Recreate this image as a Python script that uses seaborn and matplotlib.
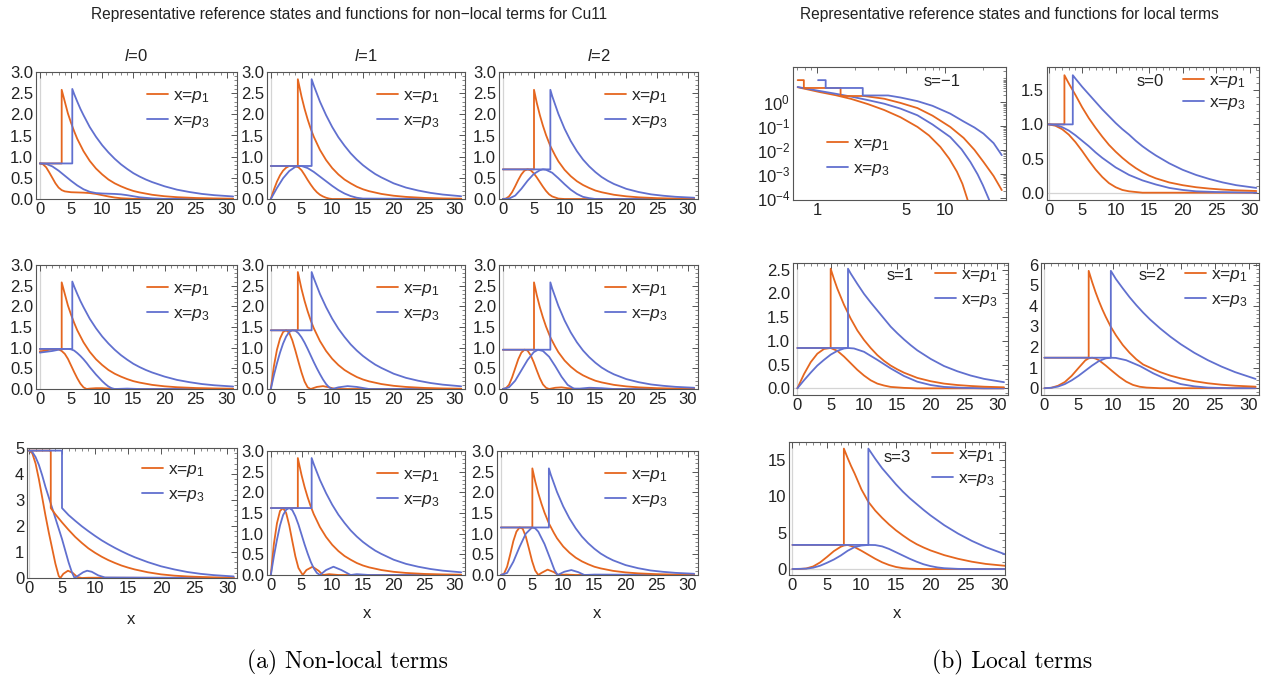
import numpy as np
import pandas as pd
import matplotlib
matplotlib.use("Agg")
import matplotlib.pyplot as plt
import seaborn as sns
from matplotlib.lines import Line2D
from matplotlib.ticker import FixedLocator, MultipleLocator, FormatStrFormatter, NullFormatter, FixedFormatter

# ---------------- DATA ----------------
# decaying parts of the functions (first point is the jump at x = p)
L0_FN1_X = [3.5, 4, 4.5, 5, 5.5, 6, 7, 8, 9, 10, 11, 12, 13, 14, 15, 16, 18, 20, 22, 25, 28, 31]
L0_FN1_Y = [2.58, 2.3, 2.02, 1.8, 1.6, 1.42, 1.13, 0.9, 0.72, 0.58, 0.46, 0.37, 0.3, 0.24, 0.19, 0.155, 0.1, 0.065, 0.043, 0.024, 0.014, 0.008]
L0_FN3_X = [5.2, 5.5, 6, 6.5, 7, 8, 9, 10, 11, 12, 13, 14, 15, 16, 17, 18, 20, 22, 24, 26, 28, 31]
L0_FN3_Y = [2.6, 2.48, 2.3, 2.13, 1.98, 1.7, 1.47, 1.27, 1.1, 0.95, 0.82, 0.71, 0.61, 0.53, 0.46, 0.4, 0.3, 0.22, 0.165, 0.12, 0.09, 0.06]
L0R3_FN1_X = [3.3, 4, 5, 6, 7, 8, 9, 10, 11, 12, 13, 14, 15, 16, 18, 20, 22, 24, 26, 28, 31]
L0R3_FN1_Y = [2.69, 2.45, 2.14, 1.85, 1.58, 1.35, 1.14, 0.97, 0.82, 0.69, 0.58, 0.48, 0.4, 0.33, 0.22, 0.14, 0.09, 0.06, 0.04, 0.025, 0.014]
L0R3_FN3_X = [5.0, 6, 7, 8, 9, 10, 11, 12, 13, 14, 15, 16, 18, 20, 22, 24, 26, 28, 31]
L0R3_FN3_Y = [2.69, 2.42, 2.2, 1.99, 1.8, 1.62, 1.45, 1.3, 1.16, 1.03, 0.91, 0.8, 0.61, 0.45, 0.33, 0.23, 0.16, 0.11, 0.06]
L1_FN1_X = [4.4, 5, 5.5, 6, 6.5, 7, 8, 9, 10, 11, 12, 13, 14, 15, 16, 18, 20, 22, 25, 28, 31]
L1_FN1_Y = [2.83, 2.42, 2.13, 1.88, 1.66, 1.47, 1.16, 0.92, 0.73, 0.58, 0.46, 0.37, 0.29, 0.23, 0.185, 0.12, 0.077, 0.05, 0.026, 0.014, 0.008]
L1_FN3_X = [6.65, 7, 8, 9, 10, 11, 12, 13, 14, 15, 16, 17, 18, 20, 22, 24, 26, 28, 31]
L1_FN3_Y = [2.83, 2.68, 2.3, 1.98, 1.7, 1.46, 1.26, 1.08, 0.93, 0.8, 0.69, 0.59, 0.51, 0.37, 0.27, 0.2, 0.145, 0.105, 0.065]
L2_FN1_X = [5.05, 5.5, 6, 6.5, 7, 7.7, 8.5, 9, 10, 11, 12, 13, 14, 15, 16, 18, 20, 22, 25, 28, 31]
L2_FN1_Y = [2.58, 2.27, 1.98, 1.73, 1.51, 1.25, 1.02, 0.89, 0.69, 0.54, 0.42, 0.33, 0.26, 0.2, 0.16, 0.1, 0.063, 0.04, 0.02, 0.011, 0.006]
L2_FN3_X = [7.7, 8, 9, 10, 11, 12, 13, 14, 15, 16, 17, 18, 20, 22, 24, 26, 28, 31]
L2_FN3_Y = [2.58, 2.43, 2.01, 1.66, 1.37, 1.13, 0.93, 0.77, 0.635, 0.52, 0.43, 0.355, 0.24, 0.165, 0.11, 0.077, 0.052, 0.03]

# constant levels (rows 1..3) per column
L0_LEVEL = [0.84, 0.97, 4.9]
L1_LEVEL = [0.78, 1.42, 1.62]
L2_LEVEL = [0.70, 0.95, 1.15]

# reference states, non-local
R1_L0_REF1_X = [0, 0.5, 1, 1.5, 2, 2.5, 3, 3.5, 4, 5, 6, 7, 8, 9, 10, 11, 12, 13, 15, 18, 31]
R1_L0_REF1_Y = [0.84, 0.82, 0.75, 0.63, 0.5, 0.37, 0.27, 0.21, 0.18, 0.16, 0.155, 0.15, 0.14, 0.12, 0.09, 0.06, 0.035, 0.018, 0.004, 0.0, 0.0]
R1_L0_REF3_X = [0, 1, 2, 3, 4, 5, 6, 7, 8, 9, 10, 11, 12, 13, 14, 15, 16, 18, 20, 31]
R1_L0_REF3_Y = [0.84, 0.83, 0.77, 0.67, 0.55, 0.43, 0.32, 0.23, 0.17, 0.14, 0.13, 0.125, 0.12, 0.11, 0.09, 0.065, 0.04, 0.015, 0.003, 0.0]
R2_L0_REF1_X = [0, 0.5, 1, 1.5, 2, 2.5, 3, 3.5, 4, 4.5, 5, 5.5, 6, 6.5, 7, 7.5, 8, 9, 10, 11, 12, 31]
R2_L0_REF1_Y = [0.91, 0.92, 0.93, 0.95, 0.96, 0.97, 0.96, 0.92, 0.85, 0.73, 0.57, 0.41, 0.26, 0.13, 0.04, 0.0, 0.01, 0.02, 0.02, 0.01, 0.0, 0.0]
R2_L0_REF3_X = [0, 1, 2, 3, 4, 4.5, 5, 5.5, 6, 6.5, 7, 7.5, 8, 8.5, 9, 9.5, 10, 10.5, 11, 11.5, 12, 14, 16, 31]
R2_L0_REF3_Y = [0.88, 0.9, 0.92, 0.95, 0.97, 0.97, 0.96, 0.93, 0.87, 0.8, 0.72, 0.63, 0.53, 0.44, 0.35, 0.27, 0.19, 0.12, 0.06, 0.02, 0.0, 0.01, 0.0, 0.0]
R3_L0_REF1_X = [0, 0.5, 1, 1.5, 2, 2.5, 3, 3.5, 4, 4.5, 4.75, 5.2, 5.9, 6.6, 7.3, 8, 9, 31]
R3_L0_REF1_Y = [4.9, 4.8, 4.4, 3.8, 3.1, 2.4, 1.75, 1.15, 0.55, 0.08, 0.0, 0.16, 0.28, 0.2, 0.04, 0.0, 0.01, 0.0]
R3_L0_REF3_X = [0, 0.5, 1, 1.5, 2, 2.5, 3, 3.5, 4, 4.5, 5, 5.5, 6, 6.5, 6.9, 7.5, 8.2, 8.8, 9.5, 10.5, 11.5, 31]
R3_L0_REF3_Y = [4.9, 4.85, 4.65, 4.35, 3.95, 3.5, 3.1, 2.7, 2.3, 1.9, 1.5, 1.05, 0.6, 0.22, 0.0, 0.1, 0.22, 0.28, 0.24, 0.1, 0.02, 0.0]

R1_L1_REF1_X = [0, 0.5, 1, 1.5, 2, 2.5, 3, 3.5, 4, 4.5, 5, 5.5, 6, 6.5, 7, 7.5, 8, 8.5, 9, 9.5, 10, 31]
R1_L1_REF1_Y = [0.0, 0.22, 0.41, 0.56, 0.67, 0.74, 0.78, 0.78, 0.77, 0.75, 0.68, 0.57, 0.45, 0.34, 0.24, 0.16, 0.1, 0.06, 0.03, 0.01, 0.0, 0.0]
R1_L1_REF3_X = [0, 1, 2, 3, 4, 4.5, 5, 6, 7, 8, 9, 10, 11, 12, 13, 14, 15, 31]
R1_L1_REF3_Y = [0.0, 0.26, 0.49, 0.66, 0.76, 0.78, 0.78, 0.73, 0.64, 0.53, 0.42, 0.31, 0.21, 0.13, 0.07, 0.03, 0.01, 0.0]
R2_L1_REF1_X = [0, 0.5, 1, 1.5, 2, 2.5, 3, 3.5, 4, 4.5, 5, 5.5, 6, 6.5, 7.5, 8.5, 9.5, 10.5, 31]
R2_L1_REF1_Y = [0.0, 0.55, 0.95, 1.22, 1.38, 1.42, 1.36, 1.18, 0.93, 0.66, 0.4, 0.18, 0.04, 0.0, 0.05, 0.07, 0.04, 0.0, 0.0]
R2_L1_REF3_X = [0, 0.5, 1, 1.5, 2, 2.5, 3, 3.5, 4, 4.5, 5, 5.5, 6, 6.5, 7, 7.5, 8, 8.5, 9, 9.5, 10, 11, 12.5, 14, 16, 31]
R2_L1_REF3_Y = [0.0, 0.33, 0.62, 0.88, 1.1, 1.27, 1.38, 1.42, 1.41, 1.35, 1.25, 1.12, 0.97, 0.81, 0.65, 0.5, 0.36, 0.23, 0.12, 0.04, 0.0, 0.04, 0.07, 0.05, 0.0, 0.0]
R3_L1_REF1_X = [0, 0.5, 1, 1.5, 2, 2.5, 3, 3.5, 4, 4.5, 5.2, 5.8, 6.8, 7.8, 8.5, 9.5, 11, 31]
R3_L1_REF1_Y = [0.0, 0.75, 1.25, 1.55, 1.62, 1.5, 1.2, 0.82, 0.45, 0.17, 0.0, 0.12, 0.2, 0.1, 0.0, 0.02, 0.0, 0.0]
R3_L1_REF3_X = [0, 0.5, 1, 1.5, 2, 2.5, 3, 3.5, 4, 4.5, 5, 5.5, 6, 6.5, 7, 7.5, 8, 9, 10.2, 11.5, 13, 14, 16, 31]
R3_L1_REF3_Y = [0.0, 0.45, 0.85, 1.2, 1.45, 1.58, 1.62, 1.57, 1.42, 1.22, 0.98, 0.74, 0.52, 0.32, 0.16, 0.05, 0.0, 0.12, 0.2, 0.12, 0.0, 0.02, 0.0, 0.0]

R1_L2_REF1_X = [0, 0.5, 1, 1.5, 2, 2.5, 3, 3.5, 4, 4.5, 5, 5.5, 6, 6.5, 7, 7.5, 8, 9, 10, 31]
R1_L2_REF1_Y = [0.0, 0.01, 0.06, 0.16, 0.3, 0.45, 0.58, 0.67, 0.7, 0.68, 0.61, 0.51, 0.4, 0.29, 0.19, 0.11, 0.06, 0.01, 0.0, 0.0]
R1_L2_REF3_X = [0, 1, 2, 3, 4, 5, 6, 6.5, 7, 8, 9, 10, 11, 12, 13, 14, 15, 31]
R1_L2_REF3_Y = [0.0, 0.01, 0.08, 0.24, 0.43, 0.59, 0.68, 0.7, 0.69, 0.62, 0.49, 0.35, 0.22, 0.12, 0.05, 0.02, 0.0, 0.0]
R2_L2_REF1_X = [0, 0.5, 1, 1.5, 2, 2.5, 3, 3.5, 4, 4.5, 5, 5.5, 6, 6.5, 7, 7.5, 8.5, 9.5, 10.5, 12, 31]
R2_L2_REF1_Y = [0.0, 0.02, 0.1, 0.28, 0.5, 0.72, 0.88, 0.95, 0.93, 0.82, 0.65, 0.45, 0.26, 0.11, 0.03, 0.0, 0.03, 0.04, 0.02, 0.0, 0.0]
R2_L2_REF3_X = [0, 1, 2, 3, 4, 5, 5.7, 6.5, 7.5, 8.5, 9.5, 10.5, 11.5, 12.5, 14, 16, 18, 31]
R2_L2_REF3_Y = [0.0, 0.04, 0.2, 0.45, 0.7, 0.89, 0.95, 0.92, 0.78, 0.55, 0.3, 0.1, 0.01, 0.01, 0.03, 0.02, 0.0, 0.0]
R3_L2_REF1_X = [0, 0.5, 1, 1.5, 2, 2.5, 3, 3.5, 4, 4.5, 5, 5.5, 6, 6.5, 7.5, 8.5, 9.2, 10.5, 12, 31]
R3_L2_REF1_Y = [0.0, 0.03, 0.2, 0.5, 0.82, 1.05, 1.15, 1.12, 0.93, 0.64, 0.34, 0.11, 0.0, 0.05, 0.13, 0.07, 0.0, 0.01, 0.0, 0.0]
R3_L2_REF3_X = [0, 1, 2, 3, 4, 5, 5.5, 6, 7, 8, 8.6, 9.1, 10.2, 11.3, 12.4, 13.4, 15, 31]
R3_L2_REF3_Y = [0.0, 0.05, 0.32, 0.68, 1.0, 1.15, 1.13, 1.05, 0.75, 0.36, 0.12, 0.0, 0.08, 0.12, 0.07, 0.0, 0.01, 0.0]

# local terms
S0_LEVEL = 1.0
S0_FN1_X = [2.35, 3, 4, 5, 6, 7, 8, 9, 10, 11, 12, 13, 14, 15, 16, 18, 20, 22, 24, 26, 28, 31]
S0_FN1_Y = [1.72, 1.6, 1.43, 1.25, 1.09, 0.95, 0.82, 0.7, 0.6, 0.51, 0.43, 0.36, 0.3, 0.25, 0.21, 0.15, 0.11, 0.08, 0.06, 0.045, 0.035, 0.025]
S0_FN3_X = [3.6, 4, 5, 6, 7, 8, 9, 10, 11, 12, 13, 14, 15, 16, 18, 20, 22, 24, 26, 28, 31]
S0_FN3_Y = [1.72, 1.67, 1.55, 1.44, 1.33, 1.22, 1.12, 1.02, 0.93, 0.85, 0.76, 0.68, 0.61, 0.545, 0.43, 0.335, 0.26, 0.2, 0.15, 0.11, 0.07]
S0_REF1_X = [0, 1, 2, 3, 4, 5, 6, 7, 8, 9, 10, 11, 12, 14, 31]
S0_REF1_Y = [1.0, 0.98, 0.93, 0.85, 0.74, 0.61, 0.47, 0.34, 0.23, 0.14, 0.08, 0.04, 0.02, 0.0, 0.0]
S0_REF3_X = [0, 1, 2, 3, 4, 5, 6, 7, 8, 10, 12, 14, 16, 18, 20, 22, 25, 31]
S0_REF3_Y = [1.0, 0.99, 0.96, 0.91, 0.84, 0.76, 0.68, 0.59, 0.51, 0.37, 0.26, 0.18, 0.12, 0.07, 0.04, 0.02, 0.01, 0.0]

S1_LEVEL = 0.85
S1_FN1_X = [5.0, 5.5, 6, 7, 8, 9, 10, 11, 12, 13, 14, 15, 16, 18, 20, 22, 24, 26, 28, 31]
S1_FN1_Y = [2.52, 2.3, 2.1, 1.76, 1.47, 1.22, 1.02, 0.85, 0.7, 0.58, 0.48, 0.4, 0.33, 0.22, 0.15, 0.1, 0.07, 0.05, 0.035, 0.022]
S1_FN3_X = [7.6, 8, 9, 10, 11, 12, 13, 14, 15, 16, 17, 18, 20, 22, 24, 26, 28, 31]
S1_FN3_Y = [2.52, 2.42, 2.2, 1.99, 1.81, 1.64, 1.47, 1.3, 1.16, 1.03, 0.91, 0.8, 0.62, 0.47, 0.36, 0.27, 0.2, 0.13]
S1_REF1_X = [0, 1, 2, 3, 4, 5, 6, 7, 8, 9, 10, 11, 12, 13, 14, 16, 18, 31]
S1_REF1_Y = [0.0, 0.3, 0.55, 0.73, 0.83, 0.85, 0.79, 0.67, 0.53, 0.39, 0.27, 0.17, 0.1, 0.06, 0.03, 0.01, 0.0, 0.0]
S1_REF3_X = [0, 1, 2, 3, 4, 5, 6, 7, 7.6, 8.5, 10, 12, 14, 16, 18, 20, 22, 25, 28, 31]
S1_REF3_Y = [0.0, 0.17, 0.33, 0.48, 0.6, 0.71, 0.79, 0.84, 0.85, 0.84, 0.77, 0.6, 0.42, 0.26, 0.14, 0.07, 0.03, 0.01, 0.0, 0.0]

S2_LEVEL = 1.48
S2_FN1_X = [6.5, 7, 7.5, 8, 8.5, 9, 9.75, 10.5, 11.5, 12.5, 13.5, 14.5, 15.5, 17, 18.5, 20, 22, 24, 26, 28, 31]
S2_FN1_Y = [5.7, 5.16, 4.67, 4.23, 3.83, 3.47, 2.98, 2.57, 2.1, 1.72, 1.4, 1.15, 1.0, 0.78, 0.61, 0.48, 0.34, 0.24, 0.17, 0.12, 0.075]
S2_FN3_X = [9.75, 10.5, 11.5, 12.5, 13.5, 14.5, 15.5, 17, 18.5, 20, 22, 24, 26, 28, 31]
S2_FN3_Y = [5.7, 5.3, 4.85, 4.42, 4.03, 3.67, 3.34, 2.9, 2.5, 2.14, 1.72, 1.36, 1.05, 0.78, 0.45]
S2_REF1_X = [0, 1, 2, 3, 4, 5, 6, 6.5, 7, 7.5, 8, 9, 10, 11, 12, 13, 14, 15, 17, 31]
S2_REF1_Y = [0.0, 0.02, 0.12, 0.3, 0.6, 0.98, 1.35, 1.45, 1.48, 1.44, 1.36, 1.1, 0.82, 0.55, 0.32, 0.16, 0.07, 0.03, 0.0, 0.0]
S2_REF3_X = [0, 1, 2, 3, 4, 5, 6, 7, 8, 9, 9.75, 10.5, 12, 14, 16, 18, 20, 22, 24, 27, 31]
S2_REF3_Y = [0.0, 0.02, 0.08, 0.2, 0.38, 0.6, 0.85, 1.1, 1.32, 1.45, 1.48, 1.47, 1.36, 1.08, 0.72, 0.42, 0.2, 0.09, 0.03, 0.0, 0.0]

S3_LEVEL = 3.3
S3_FN1_X = [7.45, 8, 8.5, 9, 10, 11, 12, 13, 14, 15, 16, 17, 18, 19, 20, 22, 24, 26, 28, 31]
S3_FN1_Y = [16.5, 15.2, 14.1, 13.1, 10.9, 9.2, 8.0, 7.0, 6.1, 5.3, 4.6, 3.95, 3.4, 2.95, 2.55, 1.9, 1.4, 1.0, 0.7, 0.42]
S3_FN3_X = [11, 12, 13, 14, 15, 16, 17, 18, 19, 20, 22, 24, 26, 28, 31]
S3_FN3_Y = [16.5, 15.1, 13.8, 12.7, 11.6, 10.6, 9.7, 8.9, 8.1, 7.35, 6.0, 4.85, 3.85, 3.0, 1.95]
S3_REF1_X = [0, 1, 2, 3, 4, 5, 6, 7, 7.45, 8, 9, 10, 11, 12, 13, 14, 15, 16, 17, 19, 31]
S3_REF1_Y = [0.0, 0.0, 0.08, 0.35, 0.9, 1.65, 2.45, 3.05, 3.22, 3.3, 3.0, 2.5, 1.95, 1.4, 0.92, 0.55, 0.28, 0.12, 0.04, 0.0, 0.0]
S3_REF3_X = [0, 2, 3, 4, 5, 6, 7, 8, 9, 10, 11, 12, 13, 14, 15, 16, 17, 18, 19, 20, 21, 22, 24, 26, 31]
S3_REF3_Y = [0.0, 0.05, 0.18, 0.45, 0.85, 1.3, 1.85, 2.5, 3.0, 3.22, 3.3, 3.28, 3.1, 2.75, 2.3, 1.85, 1.4, 1.0, 0.65, 0.4, 0.22, 0.11, 0.02, 0.0, 0.0]

# s = -1 (log-log)
SM1_REF1_X = [0.707, 1.05, 1.4, 1.85, 2.5, 3.36, 4.5, 6.1, 7.5, 9.2, 10.8, 12.4, 13.7, 14.9, 15.5]
SM1_REF1_Y = [4.3, 2.7, 2.0, 1.4, 0.85, 0.48, 0.24, 0.095, 0.042, 0.014, 0.0045, 0.0013, 0.0004, 0.0001, 0.00005]
SM1_REF3_X = [0.707, 1.05, 1.4, 1.85, 2.5, 3.36, 4.5, 6.1, 8, 11, 13.5, 15.8, 18, 19.8, 21.9, 23]
SM1_REF3_Y = [4.4, 3.0, 2.3, 1.75, 1.25, 0.88, 0.55, 0.29, 0.12, 0.036, 0.011, 0.0033, 0.001, 0.00035, 0.0001, 0.00005]
SM1_FN1_X = [0.707, 0.79, 0.79, 1.53, 1.53, 2.34, 3.36, 4.5, 6.1, 8, 11, 14, 17, 20, 24, 27.8]
SM1_FN1_Y = [8.5, 8.5, 4.0, 4.0, 1.85, 1.85, 1.42, 0.95, 0.58, 0.28, 0.095, 0.033, 0.0105, 0.0033, 0.00085, 0.00022]
SM1_FN3_X = [1.02, 1.17, 1.17, 2.28, 2.28, 3.6, 4.5, 6.1, 8, 11, 14, 17, 20, 24, 27.8]
SM1_FN3_Y = [8.5, 8.5, 4.0, 4.0, 1.95, 1.95, 1.6, 1.13, 0.72, 0.34, 0.16, 0.09, 0.05, 0.02, 0.0063]

LEGEND_LABELS = ["x=$p_1$", "x=$p_3$"]
COL_TITLES = ["$\\mathit{l}$=0", "$\\mathit{l}$=1", "$\\mathit{l}$=2"]
S_LABELS = ["s=\u22121", "s=0", "s=1", "s=2", "s=3"]

# ---------------- STYLE ----------------
sns.set_theme(style="white")
plt.rcParams["font.family"] = ["Liberation Sans", "DejaVu Sans"]
plt.rcParams["mathtext.fontset"] = "custom"
plt.rcParams["mathtext.rm"] = "Liberation Sans"
plt.rcParams["mathtext.it"] = "Liberation Sans:italic"
plt.rcParams["axes.unicode_minus"] = True

C1 = "#E5661F"
C3 = "#6170CF"
FRAME = "#555555"
TXT = "#222222"
AXL = "#d4d4d4"
LW = 1.3
TICK_FS = 12
LEG_FS = 12.5

W, H = 1270, 682
fig = plt.figure(figsize=(W / 100, H / 100), dpi=100)


def add_ax(l, t, r, b):
    return fig.add_axes([l / W, 1 - b / H, (r - l) / W, (b - t) / H])


def curve(ax, xs, ys, color):
    sns.lineplot(x=xs, y=ys, ax=ax, color=color, linewidth=LW, sort=False,
                 estimator=None, legend=False)


def fn_line(level, fx, fy):
    # constant level from x=0 up to the jump at fx[0], then the decaying part
    return [0.0, fx[0]] + list(fx), [level, level] + list(fy)


def frame(ax):
    for s in ax.spines.values():
        s.set_color(FRAME)
        s.set_linewidth(0.8)
    ax.tick_params(which="both", direction="in", top=True, right=True,
                   colors=FRAME, labelcolor=TXT, labelsize=TICK_FS, pad=2)
    ax.tick_params(which="major", length=4, width=0.7)
    ax.tick_params(which="minor", length=2, width=0.5)
    ax.set_xlabel("")
    ax.set_ylabel("")
    ax.grid(False)


def lin_axes(ax, xlim, ylim, ymaj, ymin, yfmt, hline=False):
    ax.set_xlim(*xlim)
    ax.set_ylim(*ylim)
    ax.xaxis.set_major_locator(MultipleLocator(5))
    ax.xaxis.set_minor_locator(MultipleLocator(1))
    ax.yaxis.set_major_locator(MultipleLocator(ymaj))
    ax.yaxis.set_minor_locator(MultipleLocator(ymin))
    ax.yaxis.set_major_formatter(FormatStrFormatter(yfmt))
    ax.axvline(0, color=AXL, lw=0.9, zorder=0)
    if hline:
        ax.axhline(0, color=AXL, lw=0.9, zorder=0)
    frame(ax)


def legend(ax, px, py, spacing):
    handles = [Line2D([], [], color=C1, lw=LW), Line2D([], [], color=C3, lw=LW)]
    ax.legend(handles, LEGEND_LABELS, loc="upper left",
              bbox_to_anchor=(px / W, 1 - py / H), bbox_transform=fig.transFigure,
              frameon=False, fontsize=LEG_FS, handlelength=1.2, handletextpad=0.3,
              labelspacing=spacing, borderpad=0, borderaxespad=0)


# ---------------- NON-LOCAL PANELS ----------------
NL_BOX = [
    [(36, 72, 237, 199), (267, 72, 465, 199), (499, 72, 698, 199)],
    [(36, 265, 237, 389), (267, 265, 465, 389), (499, 265, 698, 389)],
    [(27, 448, 237, 578), (267, 451, 465, 575), (497, 451, 698, 575)],
]
cols = [
    (L0_LEVEL, (L0_FN1_X, L0_FN1_Y), (L0_FN3_X, L0_FN3_Y),
     [(R1_L0_REF1_X, R1_L0_REF1_Y, R1_L0_REF3_X, R1_L0_REF3_Y),
      (R2_L0_REF1_X, R2_L0_REF1_Y, R2_L0_REF3_X, R2_L0_REF3_Y),
      (R3_L0_REF1_X, R3_L0_REF1_Y, R3_L0_REF3_X, R3_L0_REF3_Y)]),
    (L1_LEVEL, (L1_FN1_X, L1_FN1_Y), (L1_FN3_X, L1_FN3_Y),
     [(R1_L1_REF1_X, R1_L1_REF1_Y, R1_L1_REF3_X, R1_L1_REF3_Y),
      (R2_L1_REF1_X, R2_L1_REF1_Y, R2_L1_REF3_X, R2_L1_REF3_Y),
      (R3_L1_REF1_X, R3_L1_REF1_Y, R3_L1_REF3_X, R3_L1_REF3_Y)]),
    (L2_LEVEL, (L2_FN1_X, L2_FN1_Y), (L2_FN3_X, L2_FN3_Y),
     [(R1_L2_REF1_X, R1_L2_REF1_Y, R1_L2_REF3_X, R1_L2_REF3_Y),
      (R2_L2_REF1_X, R2_L2_REF1_Y, R2_L2_REF3_X, R2_L2_REF3_Y),
      (R3_L2_REF1_X, R3_L2_REF1_Y, R3_L2_REF3_X, R3_L2_REF3_Y)]),
]
LEG_X = [147, 377, 605]
for c, (LEV, F1, F3, REFS) in enumerate(cols):
    for r in range(3):
        ax = add_ax(*NL_BOX[r][c])
        r1x, r1y, r3x, r3y = REFS[r]
        f1, f3 = F1, F3
        if c == 0 and r == 2:
            f1 = (L0R3_FN1_X, L0R3_FN1_Y)
            f3 = (L0R3_FN3_X, L0R3_FN3_Y)
        curve(ax, r1x, r1y, C1)
        curve(ax, r3x, r3y, C3)
        fx, fy = fn_line(LEV[r], *f1)
        curve(ax, fx, fy, C1)
        fx, fy = fn_line(LEV[r], *f3)
        curve(ax, fx, fy, C3)
        if c == 0 and r == 2:
            lin_axes(ax, (-0.3, 31.5), (0, 5), 1, 0.2, "%d")
            legend(ax, 142, 462, 0.45)
        else:
            lin_axes(ax, (-0.62, 31.62), (0, 3), 0.5, 0.1, "%.1f")
            legend(ax, LEG_X[c], NL_BOX[r][c][1] + 16, 0.45)
        if r == 0:
            fig.text(((NL_BOX[0][c][0] + NL_BOX[0][c][2]) / 2) / W, 1 - 56 / H,
                     COL_TITLES[c], ha="center", va="center", fontsize=12, color=TXT)

for xc, yc in [(131, 619), (367, 614), (597, 613)]:
    fig.text(xc / W, 1 - yc / H, "x", ha="center", va="center", fontsize=12, color=TXT)

# ---------------- LOCAL PANELS ----------------
# s = -1 (log-log)
ax = add_ax(793, 67, 1006, 200)
ax.set_xscale("log")
ax.set_yscale("log")
curve(ax, SM1_REF1_X, SM1_REF1_Y, C1)
curve(ax, SM1_REF3_X, SM1_REF3_Y, C3)
curve(ax, SM1_FN1_X, SM1_FN1_Y, C1)
curve(ax, SM1_FN3_X, SM1_FN3_Y, C3)
ax.set_xlim(0.65, 30)
ax.set_ylim(8.5e-5, 30)
ax.xaxis.set_major_locator(FixedLocator([1, 5, 10]))
ax.xaxis.set_major_formatter(FixedFormatter(["1", "5", "10"]))
ax.xaxis.set_minor_locator(FixedLocator([0.7, 0.8, 0.9, 2, 3, 4, 6, 7, 8, 9, 20, 30]))
ax.xaxis.set_minor_formatter(NullFormatter())
ax.yaxis.set_major_locator(FixedLocator([1e-4, 1e-3, 1e-2, 1e-1, 1]))
ax.yaxis.set_major_formatter(FixedFormatter(["$10^{-4}$", "$10^{-3}$", "$10^{-2}$", "$10^{-1}$", "$10^{0}$"]))
ymin_t = [m * 10.0 ** e for e in range(-4, 2) for m in range(2, 10)] + [10]
ax.yaxis.set_minor_locator(FixedLocator(ymin_t))
ax.yaxis.set_minor_formatter(NullFormatter())
frame(ax)
legend(ax, 827, 136, 0.45)
fig.text(942 / W, 1 - 82 / H, S_LABELS[0], ha="center", va="center", fontsize=12, color=TXT)

LOC = [
    (S0_LEVEL, (S0_FN1_X, S0_FN1_Y), (S0_FN3_X, S0_FN3_Y), (S0_REF1_X, S0_REF1_Y), (S0_REF3_X, S0_REF3_Y),
     (1047, 67, 1259, 200), (-0.25, 31.4), (-0.107, 1.84), 0.5, 0.1, "%.1f", (1183, 73), (1150, 82), 0.25),
    (S1_LEVEL, (S1_FN1_X, S1_FN1_Y), (S1_FN3_X, S1_FN3_Y), (S1_REF1_X, S1_REF1_Y), (S1_REF3_X, S1_REF3_Y),
     (793, 263, 1008, 395), (-0.65, 31.6), (-0.14, 2.64), 0.5, 0.1, "%.1f", (935, 267), (900, 276), 0.45),
    (S2_LEVEL, (S2_FN1_X, S2_FN1_Y), (S2_FN3_X, S2_FN3_Y), (S2_REF1_X, S2_REF1_Y), (S2_REF3_X, S2_REF3_Y),
     (1041, 263, 1259, 395), (-0.5, 31.5), (-0.33, 6.08), 1, 0.2, "%d", (1185, 267), (1152, 276), 0.45),
    (S3_LEVEL, (S3_FN1_X, S3_FN1_Y), (S3_FN3_X, S3_FN3_Y), (S3_REF1_X, S3_REF1_Y), (S3_REF3_X, S3_REF3_Y),
     (789, 442, 1005, 575), (-0.5, 30.8), (-0.82, 17.4), 5, 1, "%d", (932, 447), (897, 457), 0.4),
]
for i, (LEV, F1, F3, RF1, RF3, box, xl, yl, ymaj, ymn, fmt, lg, st, sp) in enumerate(LOC):
    ax = add_ax(*box)
    curve(ax, *RF1, C1)
    curve(ax, *RF3, C3)
    fx, fy = fn_line(LEV, *F1)
    curve(ax, fx, fy, C1)
    fx, fy = fn_line(LEV, *F3)
    curve(ax, fx, fy, C3)
    lin_axes(ax, xl, yl, ymaj, ymn, fmt, hline=True)
    legend(ax, lg[0], lg[1], sp)
    fig.text(st[0] / W, 1 - st[1] / H, S_LABELS[i + 1], ha="center", va="center", fontsize=12, color=TXT)

fig.text(897 / W, 1 - 613 / H, "x", ha="center", va="center", fontsize=12, color=TXT)

# ---------------- TITLES / CAPTIONS ----------------
fig.text(349 / W, 1 - 15 / H, "Representative reference states and functions for non\u2212local terms for Cu11",
         ha="center", va="center", fontsize=11.2, color=TXT)
fig.text(1009 / W, 1 - 15 / H, "Representative reference states and functions for local terms",
         ha="center", va="center", fontsize=11.2, color=TXT)
fig.text(347 / W, 1 - 662 / H, "(a) Non-local terms", ha="center", va="center",
         fontsize=17, family="cmr10", color="black")
fig.text(1012 / W, 1 - 662 / H, "(b) Local terms", ha="center", va="center",
         fontsize=17, family="cmr10", color="black")

fig.savefig("out.png", dpi=100, facecolor="white")
